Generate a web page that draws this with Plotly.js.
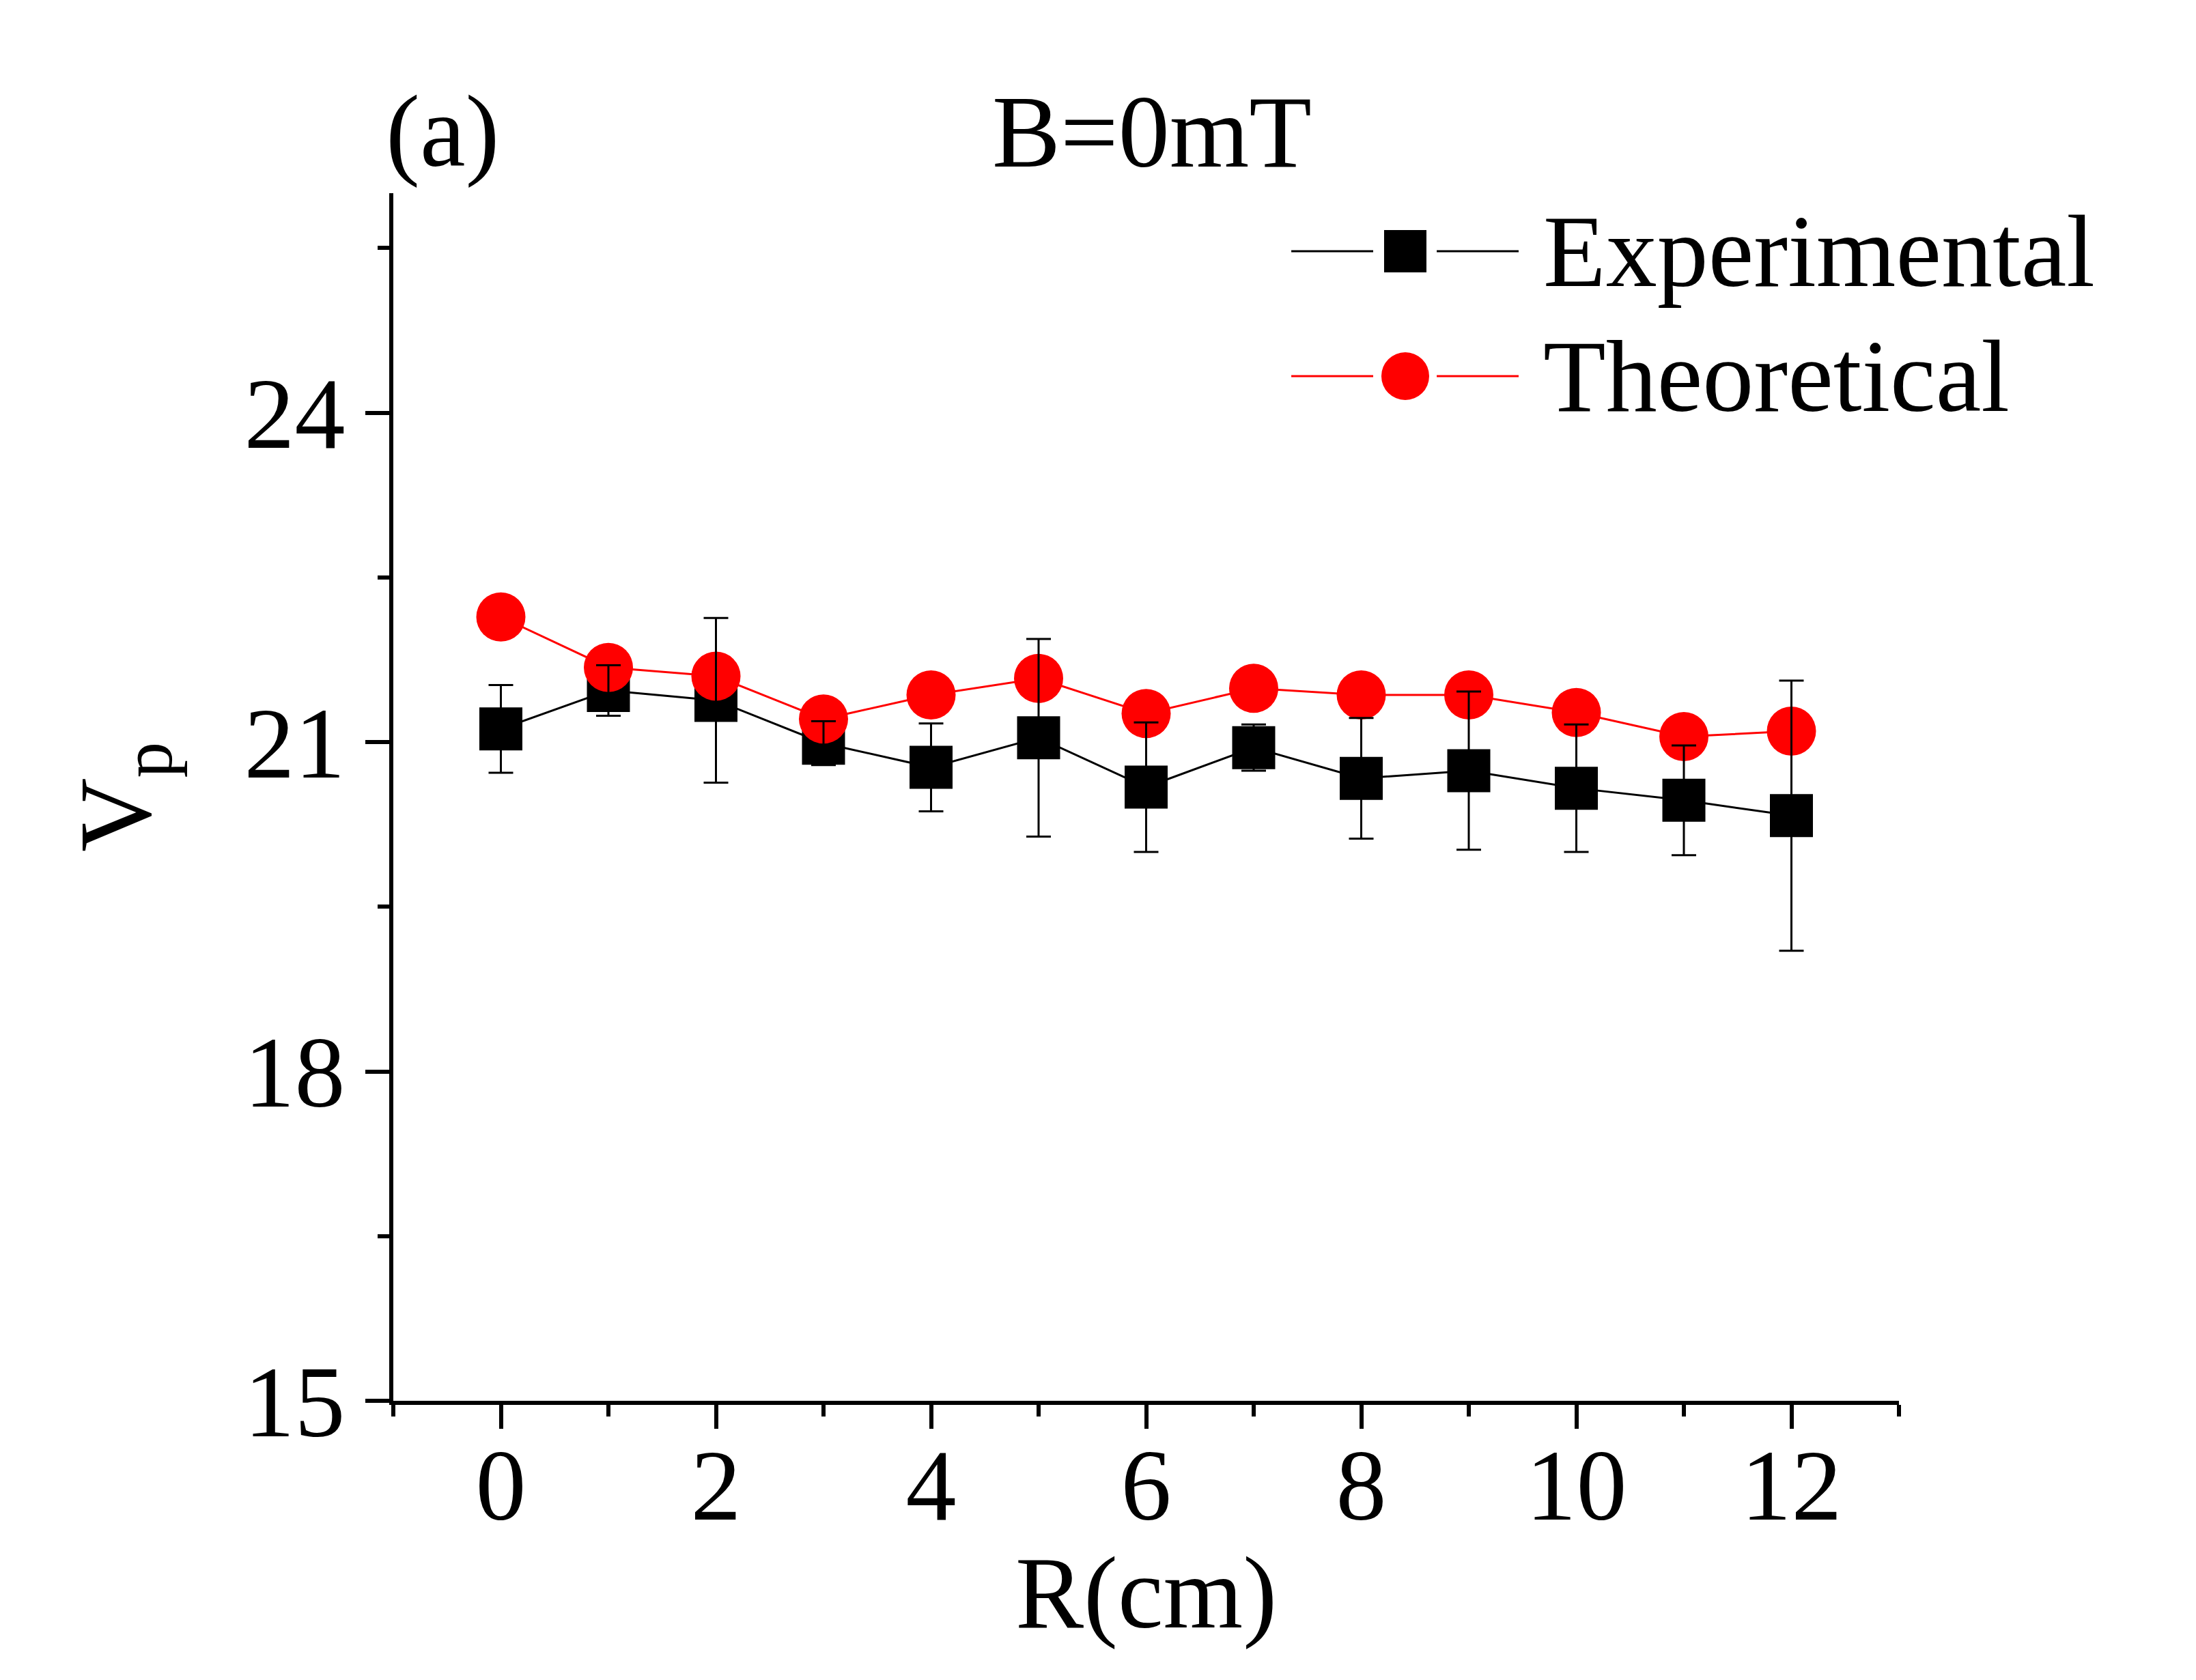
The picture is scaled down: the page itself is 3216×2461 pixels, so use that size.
<!DOCTYPE html>
<html>
<head>
<meta charset="utf-8">
<script src="https://cdn.plot.ly/plotly-3.0.1.min.js"></script>
<style>
  html, body { margin: 0; padding: 0; background: #ffffff; }
  #plot { width: 3216px; height: 2461px; }
</style>
</head>
<body>
<div id="plot"></div>
<script>
// radial position (cm)
const R = [0, 1, 2, 3, 4, 5, 6, 7, 8, 9, 10, 11, 12];

// plasma potential, measured with probe
const vpExp = [21.12, 21.47, 21.38, 20.99, 20.77, 21.04, 20.59, 20.95, 20.67, 20.74, 20.58, 20.47, 20.33];
const vpErr = [0.40, 0.23, 0.75, 0.20, 0.40, 0.90, 0.59, 0.21, 0.55, 0.72, 0.58, 0.50, 1.23];

// plasma potential, model
const vpTheo = [22.14, 21.68, 21.60, 21.21, 21.43, 21.58, 21.26, 21.49, 21.43, 21.43, 21.27, 21.05, 21.10];

const FONT = 'Liberation Serif, Times New Roman, serif';

// experimental points (markers + line)
let trace1 = {
    x: R,
    y: vpExp,
    mode: 'lines+markers',
    line: { color: '#000000', width: 3 },
    marker: { symbol: 'square', size: 63, color: '#000000' },
    showlegend: false
};

// theoretical points
let trace2 = {
    x: R,
    y: vpTheo,
    mode: 'lines+markers',
    line: { color: '#ff0000', width: 3 },
    marker: { symbol: 'circle', size: 72, color: '#ff0000' },
    showlegend: false
};

// error bars of the experiment go on top of everything
let trace3 = {
    x: R,
    y: vpExp,
    mode: 'markers',
    marker: { size: 1, color: 'rgba(0,0,0,0)' },
    error_y: { type: 'data', array: vpErr, visible: true, color: '#000000', thickness: 3, width: 18 },
    showlegend: false,
    hoverinfo: 'skip'
};

let data = [trace1, trace2, trace3];

let layout = {
    width: 3216,
    height: 2461,
    margin: { l: 576, r: 435, t: 283, b: 409 },
    paper_bgcolor: '#ffffff',
    plot_bgcolor: '#ffffff',
    font: { family: FONT, size: 148, color: '#000000' },
    showlegend: false,
    xaxis: {
        range: [-1, 13],
        tick0: 0,
        dtick: 2,
        showgrid: false,
        zeroline: false,
        showline: true,
        linewidth: 6,
        linecolor: '#000000',
        ticks: 'outside',
        ticklen: 35,
        tickwidth: 6,
        tickcolor: '#000000',
        ticklabelstandoff: -45,
        minor: { dtick: 1, ticks: 'outside', ticklen: 17, tickwidth: 6, tickcolor: '#000000', showgrid: false },
        tickfont: { family: FONT, size: 148 }
    },
    yaxis: {
        range: [15, 26],
        tick0: 15,
        dtick: 3,
        showgrid: false,
        zeroline: false,
        showline: true,
        linewidth: 6,
        linecolor: '#000000',
        ticks: 'outside',
        ticklen: 35,
        tickwidth: 6,
        tickcolor: '#000000',
        minor: { dtick: 1.5, ticks: 'outside', ticklen: 17, tickwidth: 6, tickcolor: '#000000', showgrid: false },
        tickfont: { family: FONT, size: 148 },
        title: { text: 'V<sub>p</sub>', font: { family: FONT, size: 150 }, standoff: 88 }
    },
    annotations: [
        // x axis title
        { text: 'R(cm)', xref: 'paper', yref: 'paper', x: 0.5, y: -0.159, xanchor: 'center', yanchor: 'middle',
          showarrow: false, font: { family: FONT, size: 150 } },
        { text: '(a)', xref: 'paper', yref: 'paper', x: -0.006, y: 1.051, xanchor: 'left', yanchor: 'middle',
          showarrow: false, font: { family: FONT, size: 150 } },
        { text: 'B=0mT', xref: 'paper', yref: 'paper', x: 0.504, y: 1.051, xanchor: 'center', yanchor: 'middle',
          showarrow: false, font: { family: FONT, size: 150 } },
        { text: 'Experimental', xref: 'paper', yref: 'paper', x: 0.763, y: 0.952, xanchor: 'left', yanchor: 'middle',
          showarrow: false, font: { family: FONT, size: 150 } },
        { text: 'Theoretical', xref: 'paper', yref: 'paper', x: 0.763, y: 0.8485, xanchor: 'left', yanchor: 'middle',
          showarrow: false, font: { family: FONT, size: 150 } }
    ],
    shapes: [
        // legend sample: experimental
        { type: 'line', xref: 'paper', yref: 'paper', x0: 0.5964, x1: 0.6508, y0: 0.952, y1: 0.952,
          line: { color: '#000000', width: 3 } },
        { type: 'line', xref: 'paper', yref: 'paper', x0: 0.693, x1: 0.7474, y0: 0.952, y1: 0.952,
          line: { color: '#000000', width: 3 } },
        { type: 'rect', xref: 'paper', yref: 'paper', xsizemode: 'pixel', ysizemode: 'pixel',
          xanchor: 0.6721, yanchor: 0.952, x0: -31, x1: 31, y0: -31, y1: 31,
          fillcolor: '#000000', line: { width: 0 } },
        // legend sample: theoretical
        { type: 'line', xref: 'paper', yref: 'paper', x0: 0.5964, x1: 0.6508, y0: 0.8485, y1: 0.8485,
          line: { color: '#ff0000', width: 3 } },
        { type: 'line', xref: 'paper', yref: 'paper', x0: 0.693, x1: 0.7474, y0: 0.8485, y1: 0.8485,
          line: { color: '#ff0000', width: 3 } },
        { type: 'circle', xref: 'paper', yref: 'paper', xsizemode: 'pixel', ysizemode: 'pixel',
          xanchor: 0.6721, yanchor: 0.8485, x0: -35, x1: 35, y0: -35, y1: 35,
          fillcolor: '#ff0000', line: { width: 0 } }
    ]
};

Plotly.newPlot('plot', data, layout, { staticPlot: true });
</script>
</body>
</html>
